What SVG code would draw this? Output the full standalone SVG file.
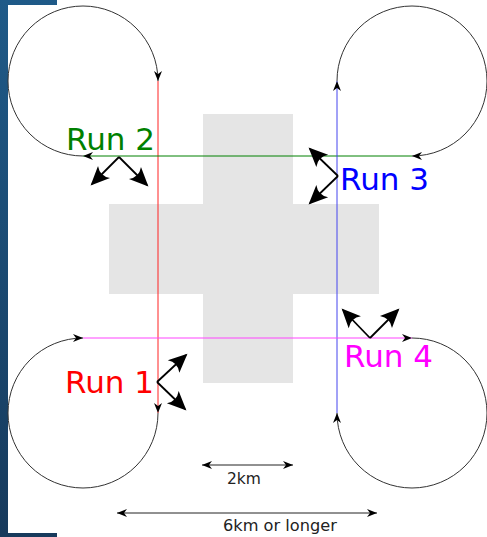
<svg xmlns="http://www.w3.org/2000/svg" width="487" height="537" viewBox="0 0 487 537">
  <defs>
    <linearGradient id="panel" x1="0" y1="0" x2="0" y2="1">
      <stop offset="0" stop-color="#1f5a88"/>
      <stop offset="1" stop-color="#173a5c"/>
    </linearGradient>
    <!-- small arrowhead for routes and dimension lines -->
    <marker id="tip" markerUnits="userSpaceOnUse" markerWidth="14" markerHeight="10" viewBox="-11 -5 12 10" refX="0" refY="0" orient="auto" overflow="visible">
      <path d="M0,0 L-10,-4 L-7,0 L-10,4 Z" fill="#000"/>
    </marker>
    <marker id="tipStart" markerUnits="userSpaceOnUse" markerWidth="14" markerHeight="10" viewBox="-11 -5 12 10" refX="0" refY="0" orient="auto-start-reverse" overflow="visible">
      <path d="M0,0 L-10,-4 L-7,0 L-10,4 Z" fill="#000"/>
    </marker>
    <!-- large arrowhead for the direction pointers -->
    <marker id="bigTip" markerUnits="userSpaceOnUse" markerWidth="26" markerHeight="20" viewBox="-22 -10 26 20" refX="0" refY="0" orient="auto" overflow="visible">
      <path d="M2,0 L-17,-8.5 Q-11,0 -17,8.5 Z" fill="#000"/>
    </marker>
    <style>
      .loop { fill: none; stroke: #333; stroke-width: 1; marker-end: url(#tip); }
      .route { fill: none; stroke-width: 1; marker-end: url(#tip); }
      .pointer { fill: none; stroke: #000; stroke-width: 1.8; marker-end: url(#bigTip); }
      .dim { fill: none; stroke: #222; stroke-width: 1; marker-start: url(#tipStart); marker-end: url(#tip); }
      .label { font-family: "DejaVu Sans", Verdana, sans-serif; font-size: 31px; }
      .small { font-family: "DejaVu Sans", Verdana, sans-serif; fill: #222; }
    </style>
  </defs>

  <!-- page background with dark side panel -->
  <rect x="0" y="0" width="487" height="537" fill="url(#panel)"/>
  <rect x="8" y="5" width="479" height="528" fill="#fff"/>
  <rect x="57" y="0" width="430" height="5" fill="#fff"/>
  <rect x="57" y="533" width="430" height="4" fill="#fff"/>

  <!-- central cross-shaped area -->
  <g id="cross">
    <path d="M203,114 H293 V204 H379 V294 H293 V383 H203 V294 H109 V204 H203 Z" fill="#e5e5e5"/>
  </g>

  <!-- turning loops -->
  <g id="loops">
    <path id="loop-top-left" class="loop" d="M83,156 A75,75 0 1 1 158,81"/>
    <path id="loop-top-right" class="loop" d="M337,81 A75,75 0 1 1 412,156"/>
    <path id="loop-bottom-left" class="loop" d="M158,413 A75,75 0 1 1 83,338"/>
    <path id="loop-bottom-right" class="loop" d="M412,338 A75,75 0 1 1 337,413"/>
  </g>

  <!-- runs -->
  <g id="connectors">
    <path id="run1-line" class="route" stroke="#ff2222" d="M158,81 V413"/>
    <path id="run2-line" class="route" stroke="#008000" d="M412,156 H83"/>
    <path id="run3-line" class="route" stroke="#4444ee" d="M337,413 V81"/>
    <path id="run4-line" class="route" stroke="#ff44ff" d="M83,338 H412"/>
  </g>

  <!-- direction pointers -->
  <g id="pointers">
    <path class="pointer" d="M119,157 L92,184"/>
    <path class="pointer" d="M119,157 L147,185"/>
    <path class="pointer" d="M338,176 L310,149"/>
    <path class="pointer" d="M338,176 L310,203"/>
    <path class="pointer" d="M157,382 L186,355"/>
    <path class="pointer" d="M157,382 L185,409"/>
    <path class="pointer" d="M370,338 L343,310"/>
    <path class="pointer" d="M370,338 L398,310"/>
  </g>

  <g id="run1"><text class="label" x="65" y="393" fill="#ff0000">Run 1</text></g>
  <g id="run2"><text class="label" x="66" y="150" fill="#008000">Run 2</text></g>
  <g id="run3"><text class="label" x="340" y="190" fill="#0000ff">Run 3</text></g>
  <g id="run4"><text class="label" x="344" y="367" fill="#ff00ff">Run 4</text></g>

  <!-- scale dimensions -->
  <g id="scale-2km">
    <path class="dim" d="M202,465 H293"/>
    <text class="small" x="227" y="484" font-size="15.5">2km</text>
  </g>
  <g id="scale-6km">
    <path class="dim" d="M117,513 H377"/>
    <text class="small" x="223" y="531" font-size="16.2">6km or longer</text>
  </g>
</svg>
